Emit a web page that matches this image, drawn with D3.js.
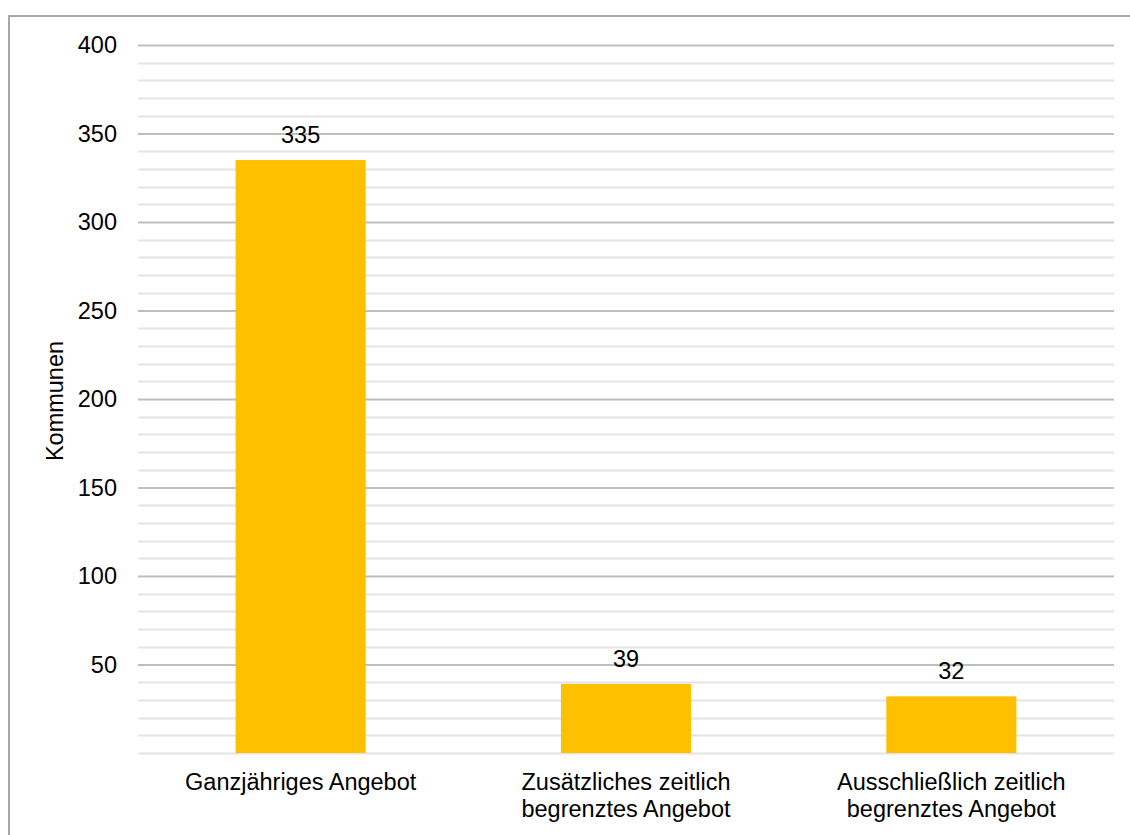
<!DOCTYPE html>
<html>
<head>
<meta charset="utf-8">
<script src="https://cdn.jsdelivr.net/npm/d3@7"></script>
<style>
  html, body { margin: 0; padding: 0; background: #fff; }
  svg { display: block; font-family: "Liberation Sans", Arial, sans-serif; }
</style>
</head>
<body>
<svg id="chart" width="1130" height="835"></svg>
<script>
// Anzahl der Kommunen nach Art des Angebots
const categories = [
  ["Ganzjähriges Angebot"],
  ["Zusätzliches zeitlich", "begrenztes Angebot"],
  ["Ausschließlich zeitlich", "begrenztes Angebot"]
];
const values = [335, 39, 32];
const majorTicks = [50, 100, 150, 200, 250, 300, 350, 400];
const yAxisTitle = "Kommunen";

const svg = d3.select("#chart");
const plot = { left: 138, right: 1114, top: 45, bottom: 753 };
const fontSize = 23.5;

// outer frame (left and top edges)
svg.append("path")
  .attr("d", `M9,835 L9,16 L1130,16`)
  .attr("fill", "none")
  .attr("stroke", "#a6a6a6")
  .attr("stroke-width", 2);

const x = d3.scaleBand()
  .domain(d3.range(categories.length))
  .range([plot.left, plot.right])
  .paddingInner(0.6)
  .paddingOuter(0.3);

const y = d3.scaleLinear()
  .domain([0, 400])
  .range([plot.bottom, plot.top]);

// minor gridlines every 10
const minor = d3.range(0, 401, 10).filter(v => v % 50 !== 0 || v === 0);
svg.append("g")
  .selectAll("line")
  .data(minor)
  .join("line")
  .attr("x1", plot.left).attr("x2", plot.right)
  .attr("y1", d => Math.round(y(d)) + 0.5)
  .attr("y2", d => Math.round(y(d)) + 0.5)
  .attr("stroke", "#e3e3e3")
  .attr("stroke-width", 2);

// major gridlines with tick labels
const yAxis = svg.append("g")
  .attr("transform", `translate(${plot.left},0)`)
  .call(d3.axisLeft(y).tickValues(majorTicks).tickSize(-(plot.right - plot.left)).tickPadding(21).tickFormat(d3.format("d")));
yAxis.select(".domain").remove();
yAxis.selectAll(".tick line")
  .attr("stroke", "#bfbfbf")
  .attr("stroke-width", 2);
yAxis.selectAll(".tick text")
  .attr("fill", "#000")
  .attr("font-size", fontSize)
  .attr("font-family", "Liberation Sans, Arial, sans-serif");

// bars
svg.append("g")
  .selectAll("rect")
  .data(values)
  .join("rect")
  .attr("x", (d, i) => x(i))
  .attr("width", x.bandwidth())
  .attr("y", d => y(d))
  .attr("height", d => y(0) - y(d))
  .attr("fill", "#ffc000");

// value labels
svg.append("g")
  .selectAll("text")
  .data(values)
  .join("text")
  .attr("x", (d, i) => x(i) + x.bandwidth() / 2)
  .attr("y", d => y(d) - 17)
  .attr("text-anchor", "middle")
  .attr("font-size", fontSize)
  .attr("fill", "#000")
  .text(d => d);

// category labels
const catG = svg.append("g");
categories.forEach((lines, i) => {
  const t = catG.append("text")
    .attr("x", x(i) + x.bandwidth() / 2)
    .attr("y", 790)
    .attr("text-anchor", "middle")
    .attr("font-size", fontSize)
    .attr("fill", "#000");
  lines.forEach((ln, j) => {
    t.append("tspan")
      .attr("x", x(i) + x.bandwidth() / 2)
      .attr("dy", j === 0 ? 0 : 27)
      .text(ln);
  });
});

// y axis title
svg.append("text")
  .attr("transform", `translate(63,401) rotate(-90)`)
  .attr("text-anchor", "middle")
  .attr("font-size", fontSize)
  .attr("fill", "#000")
  .text(yAxisTitle);
</script>
</body>
</html>
